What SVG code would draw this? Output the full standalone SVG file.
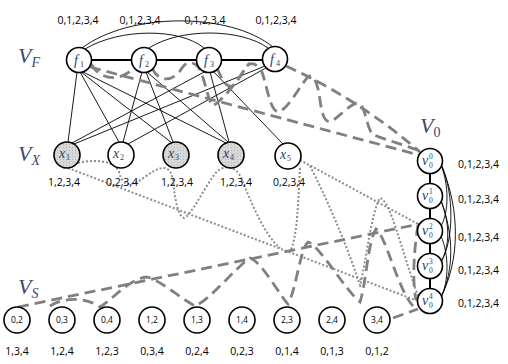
<svg xmlns="http://www.w3.org/2000/svg" width="508" height="364" viewBox="0 0 508 364">
<defs>
<pattern id="dots" width="3" height="3" patternUnits="userSpaceOnUse">
<rect width="3" height="3" fill="#d8d8d8"/>
<rect x="0" y="0" width="1" height="1" fill="#b5b5b5"/>
</pattern>
<style>
.nd{fill:#fff;stroke:#000;stroke-width:1.6}
.gr{fill:url(#dots);stroke:#000;stroke-width:1.6}
.ln{fill:none;stroke:#000;stroke-width:0.9}
.thick{fill:none;stroke:#000;stroke-width:2}
.dash{fill:none;stroke:#808080;stroke-width:2.8;stroke-dasharray:11 6}
.dot{fill:none;stroke:#8c8c8c;stroke-width:2;stroke-dasharray:2 2}
.lab{font-family:"Open Sans","Liberation Sans",sans-serif;font-size:10.5px;fill:#000}
.sm{font-family:"Open Sans","Liberation Sans",sans-serif;font-size:8.5px;fill:#000;text-anchor:middle}
.math{font-family:"Liberation Serif",serif;font-style:italic;fill:#2f3d66}
.up{font-family:"Liberation Serif",serif;font-style:normal;fill:#2f3d66}
.grp{font-family:"Liberation Serif",serif;font-style:italic;fill:#3b4a6e;font-size:22px}
.sub{font-size:14px}
.sub0{font-size:14px;font-style:normal}
</style>
</defs>

<g id="connectors">
<!-- top arcs between factors -->
<path class="ln" d="M82 48 C130 12,230 12,273 47"/>
<path class="ln" d="M85 49 C120 28,180 28,204 48"/>
<path class="ln" d="M149 48 C180 28,240 28,268 48"/>
<path class="thick" d="M91 60 H132 M156 60 H197 M221 60 H263"/>
<!-- factor to variable -->
<path class="ln" d="M77 72 L68 142"/>
<path class="ln" d="M80 72 L119 142"/>
<path class="ln" d="M81 72 L172 143"/>
<path class="ln" d="M81 71 L226 143"/>
<path class="ln" d="M142 72 L123 142"/>
<path class="ln" d="M146 72 L173 142"/>
<path class="ln" d="M147 72 L228 142"/>
<path class="ln" d="M206 71 L72 143"/>
<path class="ln" d="M210 72 L229 142"/>
<path class="ln" d="M213 71 L283 144"/>
<path class="ln" d="M265 66 L74 144"/>
<path class="ln" d="M266 68 L128 144"/>
<!-- V0 chain -->
<path class="thick" d="M430 173 V184 M430 208 V219 M430 243 V254 M430 278 V289"/>
<path class="ln" d="M441 165 C449 185,449 212,441 226"/>
<path class="ln" d="M442 166 C454 195,454 240,441 262"/>
<path class="ln" d="M442 167 C460 210,460 260,441 297"/>
<path class="ln" d="M441 200 C450 225,450 245,441 262"/>
<path class="ln" d="M441 201 C454 235,454 270,441 297"/>
<path class="ln" d="M441 236 C449 255,449 280,441 298"/>
<!-- dashed from factors to v0^0 -->
<path class="dash" d="M90 67 L419 155"/>
<path class="dash" d="M286 66 Q360 100 420 152"/>
<path class="dash" d="M91 64 C100 80,122 84,137 64"/>
<path class="dash" d="M152 68 C160 85,175 80,182 68 C187 60,196 61,201 72 C206 85,208 100,213 106 C222 100,235 85,243 72 C247 62,255 60,262 72 C268 90,270 110,278 112 C288 110,300 85,308 77 C314 72,318 85,320 100 C322 115,325 124,332 121 C340 116,350 104,358 103 C365 104,366 125,372 134 C385 140,405 145,420 151"/>
<path class="dash" d="M217 68 C222 80,227 88,232 86 C238 82,244 68,250 63"/>
<!-- dotted from variables to V0 -->
<path class="dot" d="M68 168 L418 301"/>
<path class="dot" d="M300 160 L418 224"/>
<path class="dot" d="M63 168 C80 160,112 156,119 172 C123 188,132 186,145 177 C158 167,170 162,173 180 C175 200,178 216,184 218 C192 214,202 192,214 175 C222 164,236 164,242 180 C250 200,265 236,280 248"/>
<path class="dot" d="M300 168 C298 200,298 235,290 252"/>
<path class="dot" d="M310 166 C325 195,345 240,360 285"/>
<path class="dot" d="M360 287 C366 260,372 210,380 198 C390 200,400 245,418 296"/>
<!-- dashed from VS to V0 -->
<path class="dash" d="M18 307 L419 224"/>
<path class="dash" d="M50 306 C62 298,85 296,100 307 C112 300,130 278,147 277 C160 280,180 298,195 306 C210 300,235 268,250 258 C262 262,280 296,288 304 C296 290,300 250,308 242 C320 246,345 290,360 302 C366 285,368 240,376 229 C386 236,398 290,413 306"/>
<path class="dash" d="M418 225 C414 250,412 280,416 300"/>
<path class="dash" d="M393 318 L418 309"/>
</g>

<g id="f1"><circle class="nd" cx="79" cy="60" r="12.5"/><text class="math" x="74" y="65" font-size="14">f</text><text class="up" x="80" y="67" font-size="8">1</text></g>
<g id="f2"><circle class="nd" cx="144" cy="60" r="12.5"/><text class="math" x="139" y="65" font-size="14">f</text><text class="up" x="145" y="67" font-size="8">2</text></g>
<g id="f3"><circle class="nd" cx="209" cy="60" r="12.5"/><text class="math" x="204" y="65" font-size="14">f</text><text class="up" x="210" y="67" font-size="8">3</text></g>
<g id="f4"><circle class="nd" cx="275" cy="59" r="12.5"/><text class="math" x="270" y="64" font-size="14">f</text><text class="up" x="276" y="66" font-size="8">4</text></g>

<g id="x1"><circle class="gr" cx="67" cy="155" r="13"/><text class="math" x="59" y="158" font-size="14">x</text><text class="up" x="66" y="160" font-size="8">1</text></g>
<g id="x2"><circle class="nd" cx="121" cy="155" r="13"/><text class="math" x="113" y="158" font-size="14">x</text><text class="up" x="120" y="160" font-size="8">2</text></g>
<g id="x3"><circle class="gr" cx="176" cy="155" r="13"/><text class="math" x="168" y="158" font-size="14">x</text><text class="up" x="175" y="160" font-size="8">3</text></g>
<g id="x4"><circle class="gr" cx="231" cy="155" r="13"/><text class="math" x="223" y="158" font-size="14">x</text><text class="up" x="230" y="160" font-size="8">4</text></g>
<g id="x5"><circle class="nd" cx="288" cy="156" r="13"/><text class="math" x="280" y="159" font-size="14">x</text><text class="up" x="287" y="161" font-size="8">5</text></g>

<g id="v00"><circle class="nd" cx="430" cy="161" r="12.5"/><text class="math" x="422" y="165" font-size="14">v</text><text class="up" x="429" y="159" font-size="7.5">0</text><text class="up" x="429" y="168" font-size="7.5">0</text></g>
<g id="v01"><circle class="nd" cx="430" cy="196" r="12.5"/><text class="math" x="422" y="200" font-size="14">v</text><text class="up" x="429" y="194" font-size="7.5">1</text><text class="up" x="429" y="203" font-size="7.5">0</text></g>
<g id="v02"><circle class="nd" cx="430" cy="231" r="12.5"/><text class="math" x="422" y="235" font-size="14">v</text><text class="up" x="429" y="229" font-size="7.5">2</text><text class="up" x="429" y="238" font-size="7.5">0</text></g>
<g id="v03"><circle class="nd" cx="430" cy="266" r="12.5"/><text class="math" x="422" y="270" font-size="14">v</text><text class="up" x="429" y="264" font-size="7.5">3</text><text class="up" x="429" y="273" font-size="7.5">0</text></g>
<g id="v04"><circle class="nd" cx="430" cy="301" r="12.5"/><text class="math" x="422" y="305" font-size="14">v</text><text class="up" x="429" y="299" font-size="7.5">4</text><text class="up" x="429" y="308" font-size="7.5">0</text></g>

<g id="s02"><circle class="nd" cx="17" cy="320" r="13"/><text class="sm" x="17" y="323">0,2</text></g>
<g id="s03"><circle class="nd" cx="62" cy="320" r="13"/><text class="sm" x="62" y="323">0,3</text></g>
<g id="s04"><circle class="nd" cx="107" cy="320" r="13"/><text class="sm" x="107" y="323">0,4</text></g>
<g id="s12"><circle class="nd" cx="152" cy="320" r="13"/><text class="sm" x="152" y="323">1,2</text></g>
<g id="s13"><circle class="nd" cx="197" cy="320" r="13"/><text class="sm" x="197" y="323">1,3</text></g>
<g id="s14"><circle class="nd" cx="242" cy="320" r="13"/><text class="sm" x="242" y="323">1,4</text></g>
<g id="s23"><circle class="nd" cx="287" cy="320" r="13"/><text class="sm" x="287" y="323">2,3</text></g>
<g id="s24"><circle class="nd" cx="332" cy="320" r="13"/><text class="sm" x="332" y="323">2,4</text></g>
<g id="s34"><circle class="nd" cx="377" cy="320" r="13"/><text class="sm" x="377" y="323">3,4</text></g>

<g id="labels">
<text class="grp" x="18" y="63">V<tspan class="sub" dy="4">F</tspan></text>
<text class="grp" x="18" y="161">V<tspan class="sub" dy="4">X</tspan></text>
<text class="grp" x="18" y="294">V<tspan class="sub" dy="4">S</tspan></text>
<text class="grp" x="420" y="133">V<tspan class="sub0" dy="4">0</tspan></text>
<g class="lab" text-anchor="middle">
<text x="78" y="24">0,1,2,3,4</text>
<text x="140" y="24">0,1,2,3,4</text>
<text x="205" y="24">0,1,2,3,4</text>
<text x="276" y="24">0,1,2,3,4</text>
<text x="64" y="186">1,2,3,4</text>
<text x="122" y="186">0,2,3,4</text>
<text x="177" y="186">1,2,3,4</text>
<text x="236" y="186">1,2,3,4</text>
<text x="289" y="186">0,2,3,4</text>
<text x="17" y="355">1,3,4</text>
<text x="62" y="355">1,2,4</text>
<text x="107" y="355">1,2,3</text>
<text x="152" y="355">0,3,4</text>
<text x="197" y="355">0,2,4</text>
<text x="242" y="355">0,2,3</text>
<text x="287" y="355">0,1,4</text>
<text x="332" y="355">0,1,3</text>
<text x="377" y="355">0,1,2</text>
</g>
<g class="lab">
<text x="458" y="168">0,1,2,3,4</text>
<text x="458" y="203">0,1,2,3,4</text>
<text x="458" y="241">0,1,2,3,4</text>
<text x="458" y="274">0,1,2,3,4</text>
<text x="458" y="307">0,1,2,3,4</text>
</g>
</g>
</svg>
